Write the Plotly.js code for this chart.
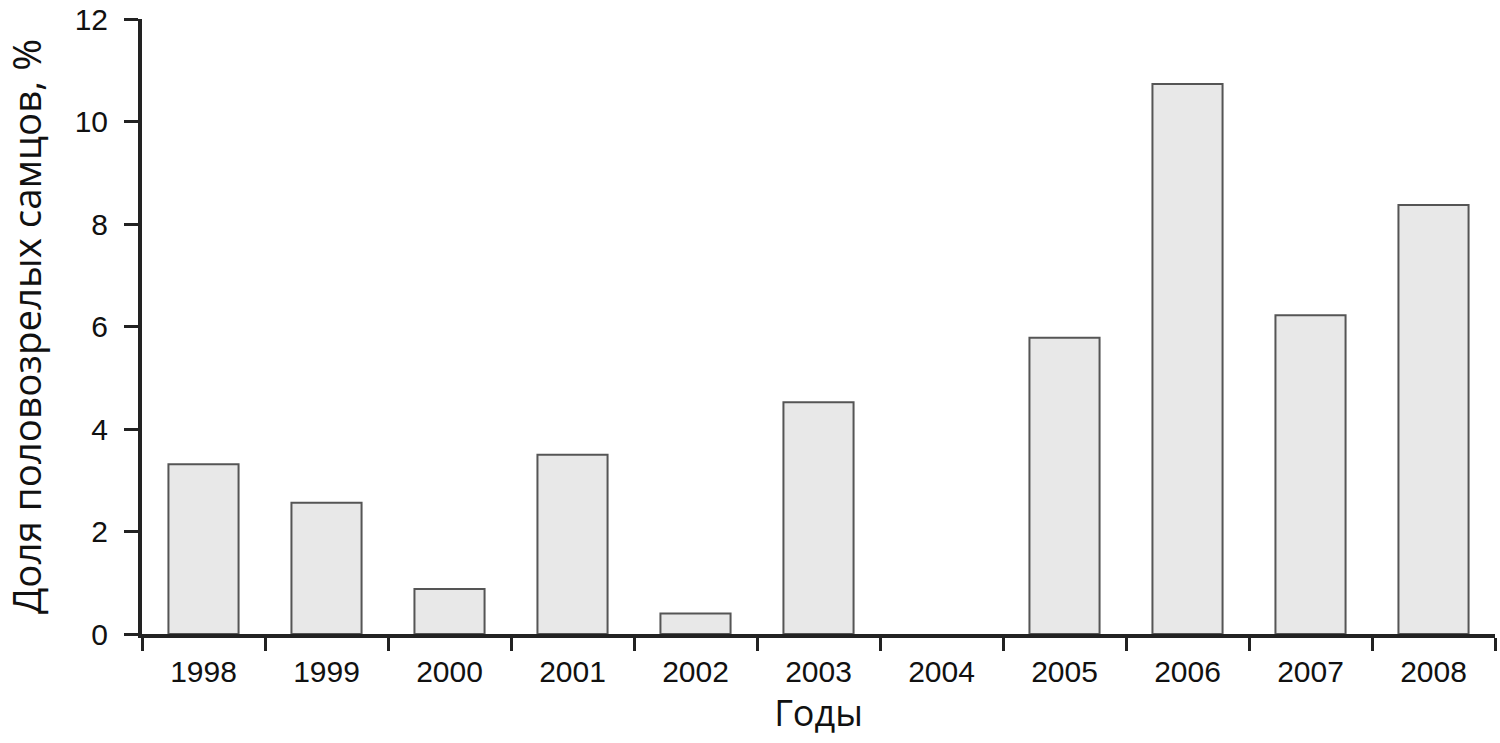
<!DOCTYPE html>
<html>
<head>
<meta charset="utf-8">
<script src="https://cdn.plot.ly/plotly-3.0.1.min.js"></script>
<style>
  html, body { margin: 0; padding: 0; background: #fff; }
  #grafico { width: 1500px; height: 743px; }
</style>
</head>
<body>
<div id="grafico"></div>
<script>
// anos e fracao de machos maduros (%)
let anos = ['1998', '1999', '2000', '2001', '2002', '2003', '2004', '2005', '2006', '2007', '2008'];
let valores = [3.31, 2.56, 0.88, 3.50, 0.40, 4.52, 0, 5.78, 10.73, 6.22, 8.37];
let ticksY = [0, 2, 4, 6, 8, 10, 12];

// barra de altura zero nao tem contorno
let larguraContorno = valores.map(v => v > 0 ? 2 : 0);

let trace1 = {
  x: anos,
  y: valores,
  type: 'bar',
  marker: {
    color: '#e8e8e8',
    line: { color: '#555555', width: larguraContorno }
  },
  hoverinfo: 'none'
};

let layout = {
  width: 1500,
  height: 743,
  margin: { l: 142, r: 5, t: 19, b: 109 },
  paper_bgcolor: '#ffffff',
  plot_bgcolor: '#ffffff',
  showlegend: false,
  bargap: 0.43,
  xaxis: {
    type: 'category',
    showline: true,
    linecolor: '#222222',
    linewidth: 4,
    ticks: 'outside',
    tickson: 'boundaries',
    ticklen: 13,
    tickwidth: 3,
    tickcolor: '#222222',
    showgrid: false,
    zeroline: false,
    ticklabelstandoff: 8,
    tickfont: { family: 'Liberation Sans, Arial, sans-serif', size: 30, color: '#111111' },
    title: {
      text: 'Годы',
      standoff: 8,
      font: { family: 'Open Sans, sans-serif', size: 36, color: '#111111' }
    }
  },
  yaxis: {
    range: [0, 12],
    tickvals: ticksY,
    ticktext: ticksY.map(String),
    showline: true,
    linecolor: '#222222',
    linewidth: 4,
    ticks: 'outside',
    ticklen: 14,
    tickwidth: 3,
    tickcolor: '#222222',
    showgrid: false,
    zeroline: false,
    ticklabelstandoff: 10,
    tickfont: { family: 'Liberation Sans, Arial, sans-serif', size: 30, color: '#111111' },
    title: {
      text: 'Доля половозрелых самцов, %',
      standoff: 30,
      font: { family: 'Open Sans, sans-serif', size: 38.5, color: '#111111' }
    }
  }
};

Plotly.newPlot('grafico', [trace1], layout, { displayModeBar: false, staticPlot: true });
</script>
</body>
</html>
